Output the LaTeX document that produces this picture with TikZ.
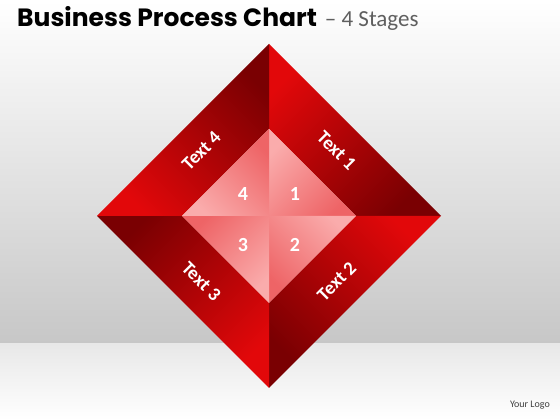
\documentclass[tikz,border=0pt]{standalone}
\usepackage{fontspec}
\setmainfont{Carlito}
\newfontfamily\titlefont{Poppins}
\usepackage{xcolor}
\definecolor{redhi}{RGB}{226,8,10}
\definecolor{redlo}{RGB}{122,0,2}
\definecolor{pinkhi}{RGB}{250,172,172}
\definecolor{pinklo}{RGB}{238,100,102}
\definecolor{subgray}{RGB}{95,95,95}
\begin{document}
\begin{tikzpicture}[line cap=round,line join=round,x=1pt,y=1pt,
  band/.style={top color=redhi,bottom color=redlo},
  facet/.style={top color=pinkhi,bottom color=pinklo},
  lbl/.style={text=white,font=\fontsize{19}{19}\selectfont\bfseries},
  num/.style={text=white,font=\fontsize{20}{20}\selectfont\bfseries}]
\useasboundingbox (0,0) rectangle (560,420);
% backdrop and floor
\shade [top color=white,bottom color=black!22] (0,76) rectangle (560,420);
\shade [top color=black!9,bottom color=white] (0,0) rectangle (560,76);
\node (title) [anchor=base west,inner sep=0pt] at (17,393)
  {\titlefont\fontsize{25}{25}\selectfont\bfseries Business Process Chart\,%
   \mdseries\rmfamily\fontsize{23}{23}\selectfont\textcolor{subgray}{\,– 4 Stages}};
\node (logo) [anchor=base east,inner sep=0pt,text=black!75] at (550,12)
  {\fontsize{10}{10}\selectfont Your Logo};
\begin{scope}[shift={(269,204)}]
% outer bands
\shade [band,shading angle=45] (90:172)--(0:172)--(0:87)--(90:87)--cycle;
\shade [band,shading angle=-45] (0:172)--(270:172)--(270:87)--(0:87)--cycle;
\shade [band,shading angle=-135] (270:172)--(180:172)--(180:87)--(270:87)--cycle;
\shade [band,shading angle=135] (180:172)--(90:172)--(90:87)--(180:87)--cycle;
% inner facets
\shade [facet,shading angle=45] (0,0)--(90:87)--(0:87)--cycle;
\shade [facet,shading angle=-45] (0,0)--(0:87)--(270:87)--cycle;
\shade [facet,shading angle=-135] (0,0)--(270:87)--(180:87)--cycle;
\shade [facet,shading angle=135] (0,0)--(180:87)--(90:87)--cycle;
\node (t1) [lbl,rotate=-45] at (44:94) {Text 1};
\node (t2) [lbl,rotate=45] at (-44:94) {Text 2};
\node (t3) [lbl,rotate=-45] at (-136:94) {Text 3};
\node (t4) [lbl,rotate=45] at (136:94) {Text 4};
\node (n1) [num] at (26,22) {1};
\node (n2) [num] at (26,-29) {2};
\node (n3) [num] at (-26,-29) {3};
\node (n4) [num] at (-26,22) {4};
\end{scope}
\end{tikzpicture}
\end{document}
